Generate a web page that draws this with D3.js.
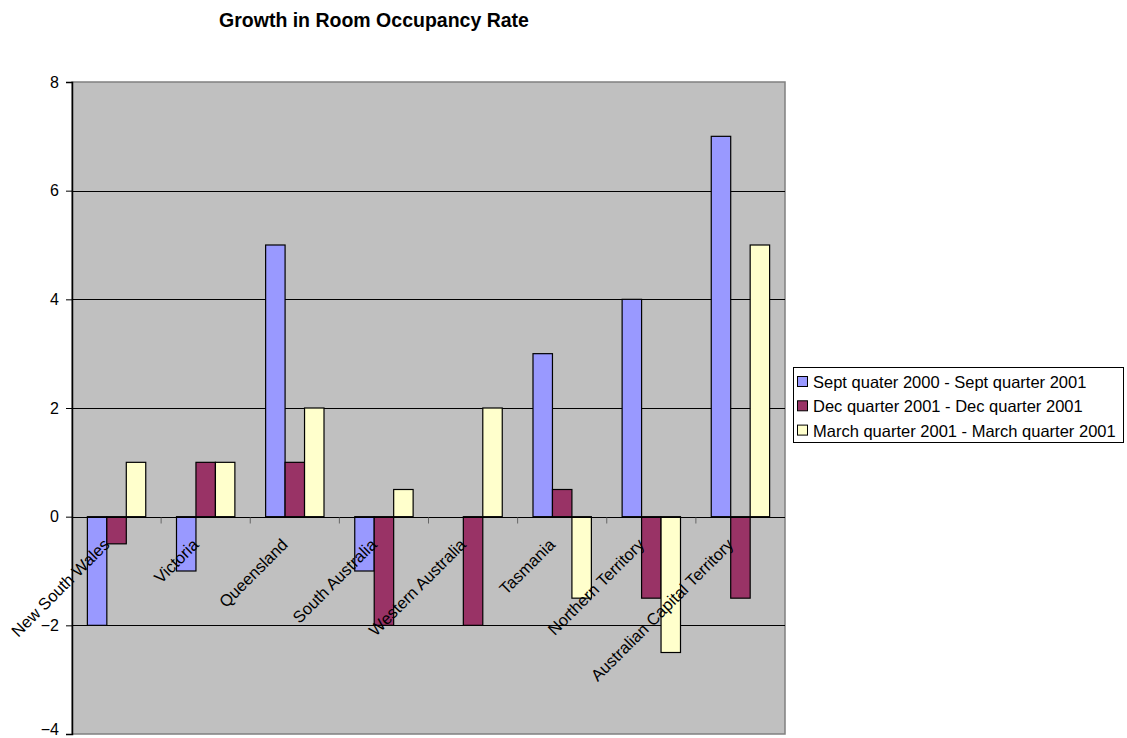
<!DOCTYPE html>
<html>
<head>
<meta charset="utf-8">
<script src="https://cdn.jsdelivr.net/npm/d3@7"></script>
<style>
  html, body { margin: 0; padding: 0; background: #fff; }
  svg { display: block; font-family: Arial, "Liberation Sans", sans-serif; }
</style>
</head>
<body>
<svg id="chart" width="1127" height="738"></svg>
<script>
const categories = ["New South Wales", "Victoria", "Queensland", "South Australia", "Western Australia", "Tasmania", "Northern Territory", "Australian Capital Territory"];
const seriesNames = ["Sept quater 2000 - Sept quarter 2001", "Dec quarter 2001 - Dec quarter 2001", "March quarter 2001 - March quarter 2001"];
const septValues = [-2, -1, 5, -1, 0, 3, 4, 7];
const decValues = [-0.5, 1, 1, -2, -2, 0.5, -1.5, -1.5];
const marchValues = [1, 1, 2, 0.5, 2, -1.5, -2.5, 5];
const yTicks = [-4, -2, 0, 2, 4, 6, 8];
const colors = ["#9999FF", "#993366", "#FFFFCC"];
const title = "Growth in Room Occupancy Rate";

const series = [septValues, decValues, marchValues];
const svg = d3.select("#chart");
const plot = { left: 72, top: 82, right: 785, bottom: 734 };
const FONT = "Arial, 'Liberation Sans', sans-serif";

const x0 = d3.scaleBand().domain(categories).range([plot.left, plot.right]).paddingInner(0.345).paddingOuter(0.1725);
const x1 = d3.scaleBand().domain(d3.range(3)).range([0, x0.bandwidth()]);
const xc = d3.scaleBand().domain(categories).range([plot.left, plot.right]);
const y = d3.scaleLinear().domain([-4, 8]).range([plot.bottom, plot.top]);

// plot background
svg.append("rect").attr("x", plot.left).attr("y", plot.top)
  .attr("width", plot.right - plot.left).attr("height", plot.bottom - plot.top)
  .attr("fill", "#C0C0C0").attr("stroke", "#808080").attr("stroke-width", 1.5);

// gridlines
svg.append("g").selectAll("line").data(yTicks.filter(t => t !== -4 && t !== 8)).join("line")
  .attr("x1", plot.left).attr("x2", plot.right)
  .attr("y1", d => Math.round(y(d)) + 0.5).attr("y2", d => Math.round(y(d)) + 0.5)
  .attr("stroke", "#000").attr("stroke-width", 1);

// bars
const groups = svg.append("g").selectAll("g").data(categories).join("g")
  .attr("transform", d => `translate(${x0(d)},0)`);
groups.selectAll("rect").data((c, i) => series.map((s, k) => ({ k, v: s[i] })).filter(d => d.v !== 0)).join("rect")
  .attr("x", d => x1(d.k))
  .attr("y", d => y(Math.max(0, d.v)))
  .attr("width", x1.bandwidth())
  .attr("height", d => Math.abs(y(d.v) - y(0)))
  .attr("fill", d => colors[d.k])
  .attr("stroke", "#000").attr("stroke-width", 1.2);

// y axis
const yAxis = d3.axisLeft(y).tickValues(yTicks).tickSize(6).tickPadding(7).tickFormat(d3.format("d"));
const gy = svg.append("g").attr("transform", `translate(${plot.left},0)`).call(yAxis);
gy.attr("font-size", null).attr("font-family", null);
gy.select(".domain").attr("stroke", "#000").attr("stroke-width", 1.5);
gy.selectAll(".tick line").attr("stroke", "#000");
gy.selectAll("text").style("font-size", "16px").attr("fill", "#000").style("font-family", FONT)
  .attr("y", d => d === -4 ? -5 : 0);

// x axis at zero
const xAxisScale = d3.scalePoint().domain(d3.range(categories.length + 1)).range([plot.left, plot.right]);
const gx = svg.append("g").attr("transform", `translate(0,${Math.round(y(0)) + 0.5})`);
gx.append("line").attr("x1", plot.left).attr("x2", plot.right).attr("stroke", "#000").attr("stroke-width", 1.2);
gx.selectAll("line.tk").data(d3.range(1, categories.length)).join("line").attr("class", "tk")
  .attr("x1", d => xAxisScale(d)).attr("x2", d => xAxisScale(d))
  .attr("y1", 0).attr("y2", 6).attr("stroke", "#666").attr("stroke-width", 1);

// category labels
svg.append("g").selectAll("text").data(categories).join("text")
  .attr("transform", d => `translate(${xc(d) + xc.bandwidth() / 2 - 6},${y(0) + 29}) rotate(-45)`)
  .attr("text-anchor", "end")
  .style("font-size", "16.5px").attr("fill", "#000")
  .text(d => d);

// title
svg.append("text").attr("x", 374).attr("y", 27).attr("text-anchor", "middle")
  .style("font-size", "19.5px").attr("font-weight", "bold").text(title);

// legend
const lg = svg.append("g");
lg.append("rect").attr("x", 793.5).attr("y", 367.5).attr("width", 330).attr("height", 75)
  .attr("fill", "#fff").attr("stroke", "#000").attr("stroke-width", 1);
const rows = lg.selectAll("g").data(seriesNames).join("g")
  .attr("transform", (d, i) => `translate(797,${382 + i * 24.3})`);
rows.append("rect").attr("x", 0.5).attr("y", -5.5).attr("width", 10).attr("height", 10)
  .attr("fill", (d, i) => colors[i]).attr("stroke", "#000").attr("stroke-width", 1);
rows.append("text").attr("x", 16).attr("y", 6).style("font-size", "16.5px").attr("fill", "#000").text(d => d);
</script>
</body>
</html>
